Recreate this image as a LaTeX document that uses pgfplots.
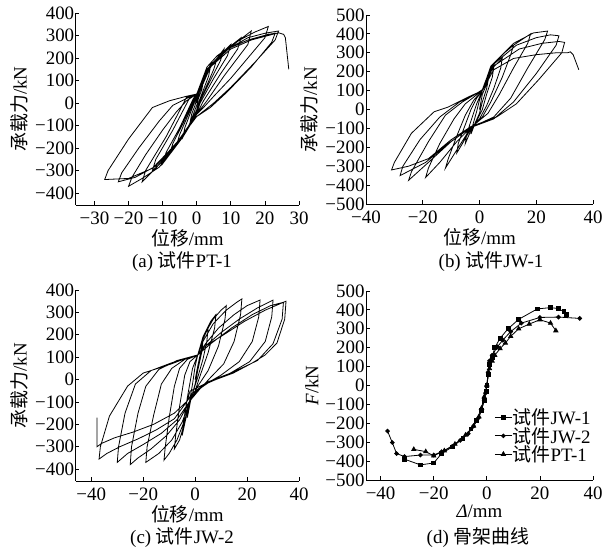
\documentclass[border=0pt]{standalone}
\usepackage{pgfplots}
\pgfplotsset{compat=1.18}
\usepackage{fontspec}
\setmainfont{Liberation Serif}
\newfontfamily\cjk{Noto Sans CJK SC}
\newcommand{\fs}{\fontsize{19}{21}\selectfont}
\pgfplotsset{
  myaxis/.style={
    scale only axis,
    axis lines=left,
    axis line style={-, line width=0.8bp},
    x axis line style={-},
    y axis line style={-},
    tick align=inside,
    major tick length=3.5bp,
    tick style={line width=0.8bp, black},
    tick label style={font=\fs},
    label style={font=\fs},
    yticklabel style={xshift=2bp},
    xticklabel style={yshift=-3bp},
    xlabel style={yshift=0bp, inner sep=2bp},
    clip=false,
    anchor=south west,
  },
  hyst/.style={black, line width=0.8bp, no marks},
}
\begin{document}
\begin{tikzpicture}[x=1bp,y=1bp]
\useasboundingbox (0,0) rectangle (604,553);
% (a) PT-1
\begin{axis}[myaxis, at={(75.7bp,348bp)}, width=223.3bp, height=192bp,
  xmin=-35.5, xmax=30, ymin=-453, ymax=400,
  xtick={-30,-20,-10,0,10,20,30}, xticklabels={−30,−20,−10,0,10,20,30},
  ytick={-400,-300,-200,-100,0,100,200,300,400},
  yticklabels={−400,−300,−200,−100,0,100,200,300,400},
  xlabel={{\cjk 位移}/mm}, ylabel={{\cjk 承载力}/kN}]
\addplot[hyst] coordinates {
(0,0) (1,60) (2,100) (1.5,60) (0.5,20) (0,-10) (-1,-50) (-2,-90) (-1.5,-50) (-0.5,-10) (0,20)
(2,90) (4,160) (3.5,120) (2,60) (0.5,0) (0,-30) (-2,-90) (-4,-150) (-3.5,-110) (-2,-50) (-0.5,10) (0,30)
(2,100) (4,160) (6,200) (5,150) (3,80) (1,10) (0,-30) (-2,-100) (-4,-150) (-6,-190) (-5,-140) (-3,-70) (-1,0) (0,30)
(2,110) (5,180) (8,240) (7,190) (4,100) (1,10) (0,-40) (-3,-120) (-6,-190) (-8,-230) (-7,-180) (-4,-90) (-1,10) (0,35)
(2,120) (6,200) (10,260) (9,210) (5,110) (1,0) (0,-45) (-4,-140) (-8,-230) (-10,-270) (-9,-220) (-5,-110) (-1,20) (0,40)
(3,140) (8,230) (13,290) (12,240) (7,130) (2,10) (0,-50) (-5,-160) (-10,-260) (-13,-300) (-12,-250) (-7,-120) (-2,25) (0,40)
(3,150) (10,250) (16,320) (15,260) (8,120) (3,10) (0,-50) (-6,-180) (-12,-290) (-16,-350) (-15,-300) (-9,-150) (-3,25) (0,40)
(3,160) (6,210) (12,275) (17,315) (21,340) (20,290) (15,200) (10,110) (5,30) (2,-20) (0,-50) (-5,-170) (-11,-285) (-16,-335) (-20,-370) (-19,-330) (-15,-230) (-10,-120) (-6,-40) (-3,10) (0,40)
(3,150) (8,230) (15,290) (20,310) (24,320) (23,280) (17,180) (10,70) (5,0) (0,-60) (-5,-160) (-12,-280) (-18,-330) (-23,-350) (-22,-310) (-17,-200) (-11,-80) (-7,-10) (-3,20) (0,40)
(4,170) (9,240) (15,280) (21,305) (23,310) (22,270) (16,160) (9,50) (4,-20) (0,-60) (-6,-180) (-13,-290) (-20,-335) (-27,-340) (-26,-300) (-20,-160) (-13,-20) (-8,10) (-3,30) (0,40)
(4,160) (10,240) (16,280) (21,300) (24,312) (25.5,305) (26,290) (27,150)
};
\end{axis}
% (b) JW-1
\begin{axis}[myaxis, at={(366bp,349bp)}, width=227bp, height=189bp,
  xmin=-40, xmax=40, ymin=-500, ymax=500,
  xtick={-40,-20,0,20,40}, xticklabels={−40,−20,0,20,40},
  ytick={-500,-400,-300,-200,-100,0,100,200,300,400,500},
  yticklabels={−500,−400,−300,−200,−100,0,100,200,300,400,500},
  xlabel={{\cjk 位移}/mm}, ylabel={{\cjk 承载力}/kN}]
\addplot[hyst] coordinates {
(0,0) (1,80) (3,150) (2.5,110) (1,40) (0,-20) (-1.5,-70) (-3,-130) (-2.5,-90) (-1,-10) (0,50) (1,100)
(3,180) (5,220) (4.5,170) (2.5,80) (1,0) (-1,-60) (-3,-110) (-5,-180) (-4.5,-130) (-3,-60) (-1,30) (1,100)
(4,210) (8,270) (7.5,220) (5,110) (2.5,20) (0,-50) (-3,-100) (-6,-180) (-8,-230) (-7.5,-180) (-5,-80) (-3,0) (-1,60) (1,100)
(4,220) (8,290) (12,340) (11,290) (8,170) (4,40) (1,-40) (-3,-95) (-7,-190) (-12,-310) (-11,-260) (-8,-140) (-5,-30) (-2,50) (1,100)
(4,230) (10,320) (15,370) (18,400) (17,350) (12,220) (7,80) (3,-20) (-3,-95) (-8,-170) (-14,-280) (-19,-360) (-18,-310) (-14,-180) (-9,-50) (-5,30) (0,90) (1,105)
(4,226) (12,350) (19,405) (24,415) (23,370) (17,220) (11,60) (5,-40) (-3,-95) (-10,-170) (-18,-280) (-25,-375) (-24,-330) (-18,-170) (-12,-30) (-6,40) (-1,85) (1,105)
(5,240) (13,340) (20,380) (25,395) (28,390) (27,340) (20,190) (12,40) (5,-50) (-3,-95) (-11,-180) (-19,-280) (-28,-350) (-27,-300) (-21,-160) (-14,-40) (-7,40) (1,100)
(5,230) (14,320) (22,350) (28,360) (30,355) (29,300) (21,160) (13,30) (6,-40) (-3,-90) (-10,-160) (-18,-260) (-25,-300) (-31,-320) (-30,-280) (-24,-126) (-16,-12) (-11,13) (-4,66) (1,100)
(5,210) (12,270) (20,290) (27,300) (31,300) (32,305) (33,290) (34,250) (35,210)
};
\end{axis}
% (c) JW-2
\begin{axis}[myaxis, at={(75.7bp,72bp)}, width=223.3bp, height=191bp,
  xmin=-46, xmax=40, ymin=-453, ymax=400,
  xtick={-40,-20,0,20,40}, xticklabels={−40,−20,0,20,40},
  ytick={-400,-300,-200,-100,0,100,200,300,400},
  yticklabels={−400,−300,−200,−100,0,100,200,300,400},
  xlabel={{\cjk 位移}/mm}, ylabel={{\cjk 承载力}/kN}]
\addplot[hyst] coordinates {
(0,0) (1,60) (3,170) (2.5,120) (1,40) (0,-20) (-1.5,-80) (-3,-170) (-2.5,-120) (-1,-20) (0,60) (1,110)
(3,180) (5,230) (4.5,170) (3,90) (1,10) (-1,-60) (-2,-95) (-3.5,-170) (-5,-250) (-4.5,-190) (-3,-80) (-1,50) (1,110)
(3,190) (6,260) (8,290) (7.5,230) (5,120) (2,20) (0,-50) (-2,-95) (-4,-190) (-6,-270) (-8,-310) (-7.5,-250) (-6,-120) (-4,20) (-2,80) (1,110)
(3,190) (7,270) (10,310) (12,330) (11.5,270) (9,150) (5,40) (1,-30) (-2,-95) (-4,-180) (-7,-270) (-10,-330) (-12,-360) (-11.5,-300) (-10,-170) (-8,-30) (-6,50) (-3,90) (1,110)
(3,170) (7,250) (12,310) (16,345) (18,360) (17.5,290) (15,170) (11,70) (6,10) (2,-40) (-2,-95) (-5,-190) (-9,-270) (-14,-330) (-19,-370) (-18.5,-300) (-16,-160) (-13,-20) (-9,50) (-4,90) (1,110)
(4,160) (9,230) (15,290) (20,330) (25,355) (24.5,280) (22,170) (17,80) (10,20) (4,-20) (0,-60) (-2,-95) (-6,-180) (-11,-250) (-17,-310) (-22,-350) (-25,-380) (-24.5,-300) (-22,-150) (-19,-30) (-14,45) (-7,85) (1,110)
(4,150) (10,210) (17,270) (24,320) (30,355) (29.5,280) (27,170) (21,80) (13,25) (5,-15) (0,-55) (-2,-95) (-7,-180) (-13,-240) (-20,-290) (-26,-330) (-30,-370) (-29.5,-300) (-27,-150) (-23,-20) (-17,40) (-9,75) (-3,97) (1,110)
(4,150) (11,200) (19,260) (27,310) (33,340) (35,350) (34.5,270) (31.5,163) (27,110) (22,74) (14.7,29) (4.5,-15) (-2,-52) (-3,-95) (-8,-175) (-15,-225) (-22,-265) (-29,-300) (-34,-330) (-37,-355) (-36.5,-300) (-33,-163) (-26,-29) (-20,29) (-9.6,68) (-3,97) (1,110)
(6,160) (14,230) (22,290) (29,330) (34,345) (33.5,270) (30,160) (24,85) (15,35) (5,-10) (-1,-60) (-3,-95)
(-8,-150) (-16,-200) (-24,-235) (-31,-260) (-36,-285) (-37.8,-300) (-37.8,-170)
};
\end{axis}
% (d) skeleton
\begin{axis}[myaxis, at={(366bp,73bp)}, width=227bp, height=189bp,
  xmin=-45.5, xmax=40, ymin=-500, ymax=500,
  xtick={-40,-20,0,20,40}, xticklabels={−40,−20,0,20,40},
  ytick={-500,-400,-300,-200,-100,0,100,200,300,400,500},
  yticklabels={−500,−400,−300,−200,−100,0,100,200,300,400,500},
  xlabel={\textit{Δ}/mm}, ylabel={\textit{F}/kN},
  legend style={at={(0.565,0.38)}, anchor=north west, draw=none, fill=none,
    font=\fs, row sep=0bp, inner sep=0pt, nodes={font=\fs, inner sep=0.5bp}, cells={anchor=west}}]
\addplot[black, line width=0.8bp, mark=square*, mark size=1.9bp] coordinates {
(-31,-390) (-25,-420) (-20,-410) (-17,-360) (-13,-325) (-9,-280) (-6,-230) (-4,-185) (-2,-130) (-1,-80) (-0.3,-30) (0,0) (0.5,60) (1,110) (2,150) (3,200) (5,250) (8,300) (12,350) (19,405) (24,412) (27,407) (29,390) (30,378)
};
\addlegendentry{{\cjk 试件}JW-1}
\addplot[black, line width=0.8bp, mark=*, mark size=1.9bp] coordinates {
(-37.4,-241) (-35.6,-302) (-34,-360) (-31,-376) (-25,-368) (-20,-368) (-17,-350) (-13,-322) (-10,-290) (-7,-255) (-5,-215) (-3,-170) (-2,-130) (-1,-80) (-0.5,-40) (0,0) (0.5,70) (1,130) (2,160) (4,205) (6,240) (9,285) (13,330) (20,360) (27,362) (35,355)
};
\addlegendentry{{\cjk 试件}JW-2}
\addplot[black, line width=0.8bp, mark=triangle*, mark size=2.4bp] coordinates {
(-27.5,-338) (-23,-350) (-20,-372) (-16,-345) (-12,-310) (-8,-262) (-5,-215) (-3,-165) (-2,-120) (-1,-60) (0,0) (1,90) (2,130) (3,160) (5,195) (7,225) (9,260) (12,300) (16,325) (20,348) (24,330) (26,290)
};
\addlegendentry{{\cjk 试件}PT-1}
\end{axis}
\node[font=\fs, inner sep=0bp] at (182,291) {(a) {\cjk 试件}PT-1};
\node[font=\fs, inner sep=0bp] at (491,291) {(b) {\cjk 试件}JW-1};
\node[font=\fs, inner sep=0bp] at (182,15) {(c) {\cjk 试件}JW-2};
\node[font=\fs, inner sep=0bp] at (478,15) {(d) {\cjk 骨架曲线}};
\end{tikzpicture}
\end{document}
